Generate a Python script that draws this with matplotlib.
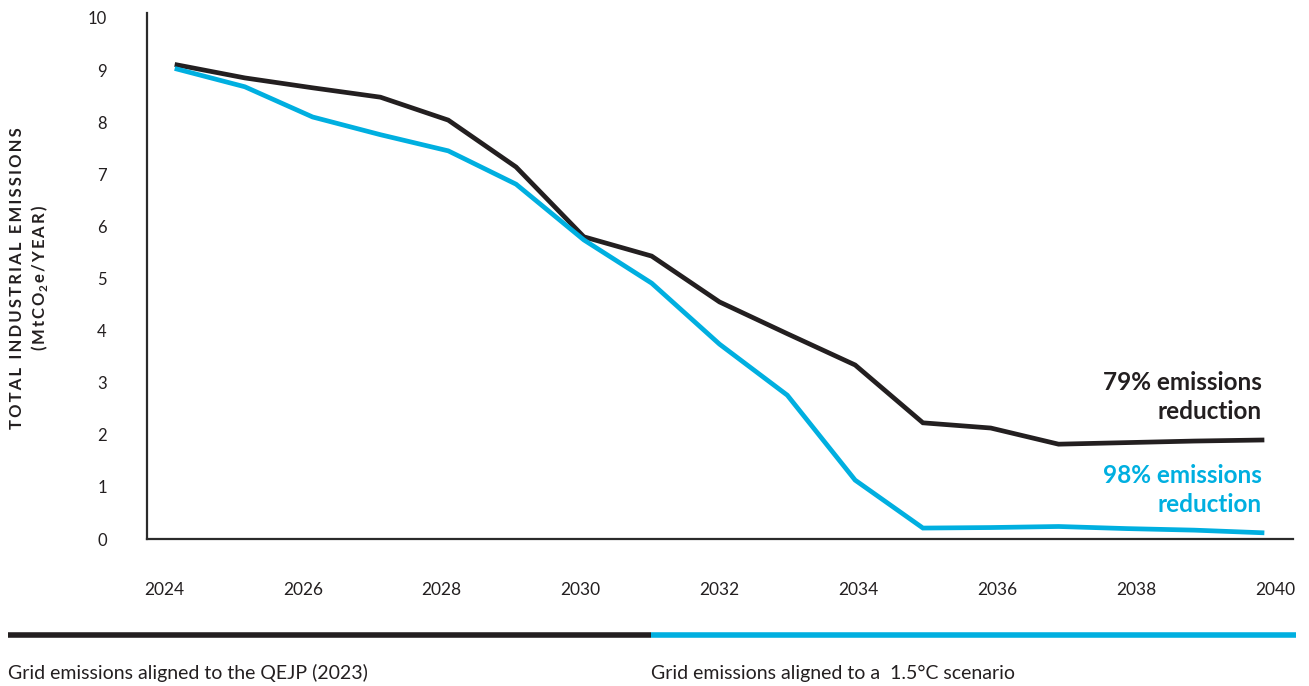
import matplotlib
matplotlib.use("Agg")
import matplotlib.pyplot as plt
from matplotlib.lines import Line2D

plt.rcParams["font.family"] = ["Lato", "DejaVu Sans"]
plt.rcParams["mathtext.fontset"] = "custom"
plt.rcParams["mathtext.rm"] = "Lato"
plt.rcParams["mathtext.bf"] = "Lato:bold"

years = list(range(2024, 2041))
qejp_grid = [9.10, 8.85, 8.66, 8.48, 8.04, 7.14, 5.80, 5.43, 4.55, 3.94,
             3.34, 2.23, 2.13, 1.82, 1.85, 1.88, 1.90]
grid_15c = [9.02, 8.68, 8.10, 7.76, 7.45, 6.81, 5.74, 4.91, 3.74, 2.76,
            1.13, 0.21, 0.22, 0.24, 0.20, 0.17, 0.12]
tick_years = [2024, 2026, 2028, 2030, 2032, 2034, 2036, 2038, 2040]
y_ticks = list(range(0, 11))

DARK = "#231f20"
BLUE = "#00afe0"
TS = "\u2009"  # thin space for letter spacing


def spaced(s):
    return TS.join(s)


fig = plt.figure(figsize=(13.09, 6.86), dpi=100)
ax = fig.add_axes([147 / 1309, 147 / 686, 1146 / 1309, 526 / 686])

ax.plot(years, qejp_grid, color=DARK, lw=3.4, solid_joinstyle="miter")
ax.plot(years, grid_15c, color=BLUE, lw=3.4, solid_joinstyle="miter")

ax.set_xlim(2024 - 30 / 67.8, 2040 + 31 / 67.8)
ax.set_ylim(0, 526 / 52.1)

for s in ["top", "right"]:
    ax.spines[s].set_visible(False)
for s in ["left", "bottom"]:
    ax.spines[s].set_color("#2b2b2b")
    ax.spines[s].set_linewidth(1.6)

ax.set_yticks(y_ticks)
ax.tick_params(axis="y", length=0, pad=29, labelsize=12, labelcolor=DARK)
ax.set_xticks([])

# year labels sit on a slightly wider scale than the data
k = 135.6 / 138.9
sec = ax.secondary_xaxis("bottom",
                         functions=(lambda x: 2032 + (x - 2032) * k,
                                    lambda x: 2032 + (x - 2032) / k))
sec.spines["bottom"].set_visible(False)
sec.set_xticks(tick_years)
sec.tick_params(length=0, pad=31, labelsize=12.5, labelcolor=DARK)

ax.text(2040, 2.73, "79% emissions\nreduction", ha="right", va="center",
        fontsize=17.5, fontweight="bold", color=DARK, linespacing=1.3)
ax.text(2040, 0.94, "98% emissions\nreduction", ha="right", va="center",
        fontsize=17.5, fontweight="bold", color=BLUE, linespacing=1.3)

fig.text(17 / 1309, 1 - 278 / 686, spaced("TOTAL INDUSTRIAL EMISSIONS"),
         rotation=90, ha="center", va="center", fontsize=12,
         fontweight="bold", color=DARK)
fig.text(40 / 1309, 1 - 278 / 686,
         TS.join("(MtCO") + r"$_\mathbf{2}$" + TS + TS.join("e/YEAR)"),
         rotation=90, ha="center", va="center", fontsize=12,
         fontweight="bold", color=DARK)

# bottom scenario key
yb = 1 - 635 / 686
fig.add_artist(Line2D([8 / 1309, 651 / 1309], [yb, yb], color=DARK, lw=4,
                      solid_capstyle="butt"))
fig.add_artist(Line2D([651 / 1309, 1296 / 1309], [yb, yb], color=BLUE, lw=4,
                      solid_capstyle="butt"))
fig.text(8 / 1309, 1 - 673 / 686, "Grid emissions aligned to the QEJP (2023)",
         ha="left", va="center", fontsize=14, color=DARK)
fig.text(651 / 1309, 1 - 673 / 686, "Grid emissions aligned to a  1.5°C scenario",
         ha="left", va="center", fontsize=14, color=DARK)

fig.savefig("out.png", dpi=100)
